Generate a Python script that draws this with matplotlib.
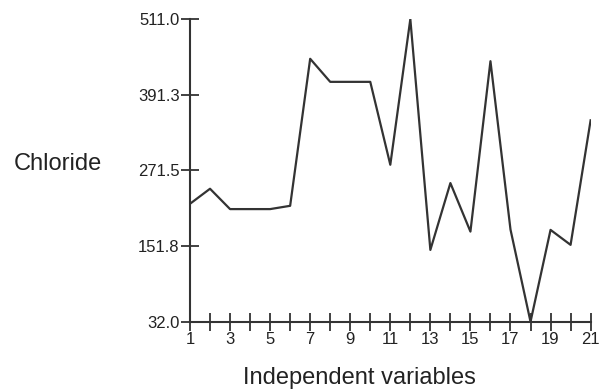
import numpy as np
import matplotlib.pyplot as plt

plt.rcParams['font.family'] = ['Liberation Sans', 'DejaVu Sans']

x = np.arange(1, 22)
chloride = [218.7, 242.5, 210.3, 210.3, 210.3, 215.5, 448.2, 411.7, 411.7, 411.7,
            280.5, 511.0, 145.7, 251.5, 174.7, 444.4, 178.0, 32.0, 177.4, 153.7, 350.8]
yticks = [32.0, 151.8, 271.5, 391.3, 511.0]
xlabels = [str(i) if i % 2 == 1 else '' for i in x]

fig = plt.figure(figsize=(6.07, 3.9), dpi=100)
ax = fig.add_axes([0.313, 0.175, 0.66, 0.776])

ax.plot(x, chloride, color='#333333', lw=1.6)

ax.set_xlim(1, 21)
ax.set_ylim(32.0, 511.0)
ax.set_xticks(x)
ax.set_xticklabels(xlabels)
ax.set_yticks(yticks)
ax.set_yticklabels(['%.1f' % v for v in yticks])

for s in ['top', 'right']:
    ax.spines[s].set_visible(False)
for s in ['left', 'bottom']:
    ax.spines[s].set_color('#333333')
    ax.spines[s].set_linewidth(1.5)

ax.tick_params(direction='inout', length=13, width=1.3, color='#333333',
               labelsize=12, labelcolor='#222222', pad=1)

# axis titles sit off-centre in the original, so place them by hand
fig.text(359 / 607, 1 - 378 / 390, 'Independent variables', fontsize=17,
         color='#222222', ha='center', va='center')
fig.text(14 / 607, 1 - 164 / 390, 'Chloride', fontsize=17, color='#222222',
         va='center', ha='left')

fig.savefig('out.png', dpi=100)
